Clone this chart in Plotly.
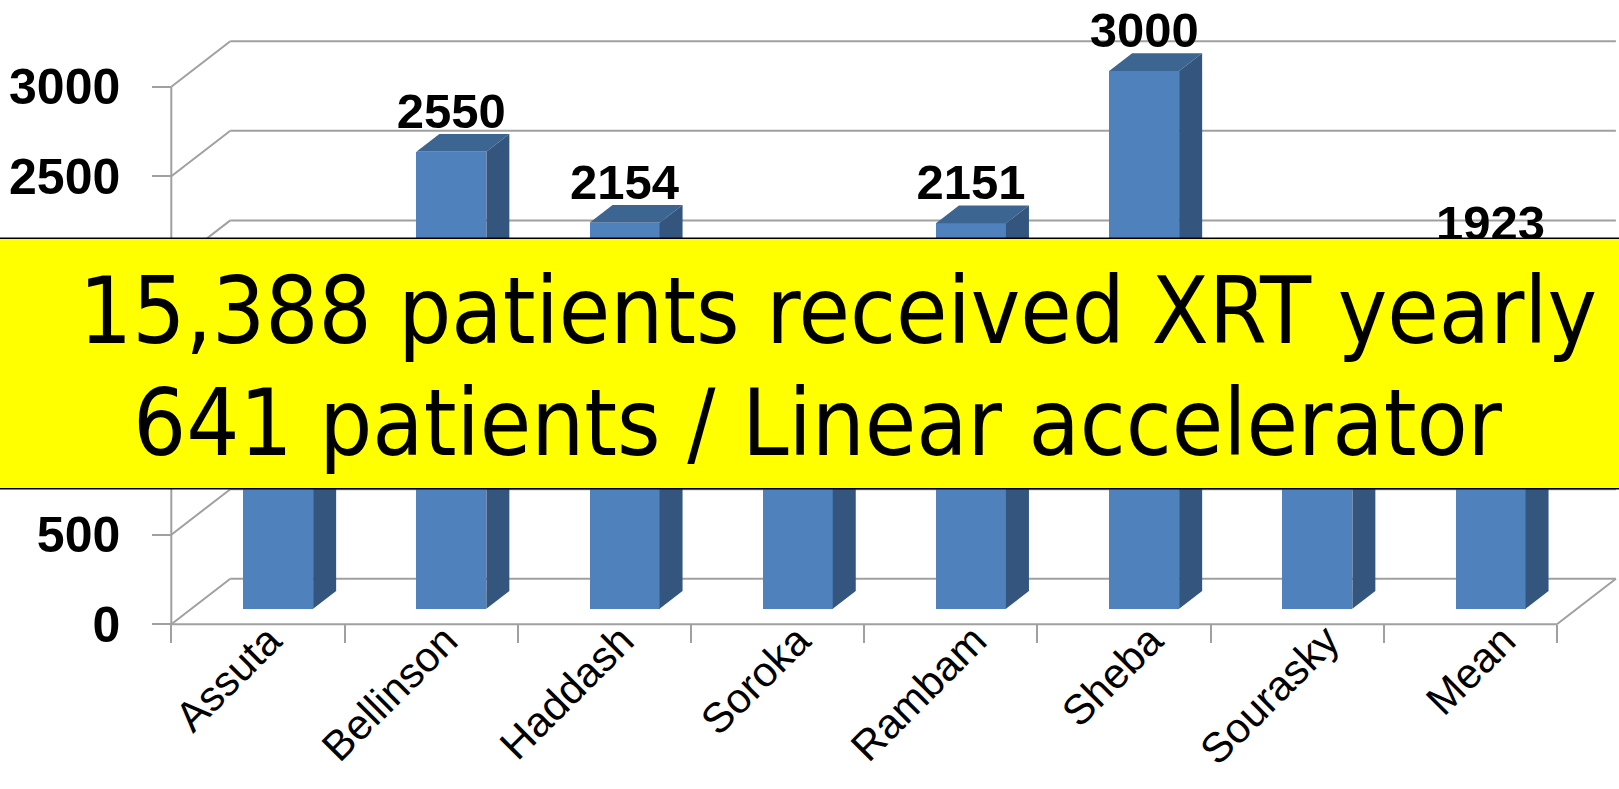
import plotly.graph_objects as go

# ---------------- data ----------------
categories = ["Assuta", "Bellinson", "Haddash", "Soroka", "Rambam", "Sheba", "Sourasky", "Mean"]
patients = [1700, 2550, 2154, 1150, 2151, 3000, 1690, 1923]   # hidden ones estimated
y_ticks = [0, 500, 1000, 1500, 2000, 2500, 3000]
overlay_lines = ["15,388 patients received XRT yearly", "641 patients / Linear accelerator"]

# ---------------- geometry / style ----------------
W, H = 1619, 789
CAT_PX = 173.2          # pixels per category
UNIT_PX = 0.1792        # pixels per value unit
FRONT_X_PX = 171.3      # front-left corner of the floor
FRONT_Y_PX = 624.3
ML, MB, MT, MR = 166, 160, 0, 0
plot_w = W - ML - MR
plot_h = H - MB - MT
x_lo = -0.5 - (FRONT_X_PX - ML) / CAT_PX
x_hi = x_lo + plot_w / CAT_PX
y_lo = -((H - MB) - FRONT_Y_PX) / UNIT_PX
y_hi = y_lo + plot_h / UNIT_PX
DX = 59.0 / CAT_PX      # depth offset in category units
DY = 45.5 / UNIT_PX     # depth offset in value units
D0, D1 = 0.343, 0.733   # bar depth span (fraction of floor depth)
BAR_W = 70.0 / CAT_PX
LABEL_PAD = 6.0 / UNIT_PX   # pull data labels slightly down
LABEL_DRIFT = 0.018         # perspective drift of category labels
GRID = "#A0A0A0"
FRONT_C, TOP_C, SIDE_C = "#4F81BD", "#3D6591", "#34557E"
NUM_FONT = "Liberation Sans"
CAT_FONT = "Liberation Sans"
BOX_FONT = "DejaVu Sans Condensed, Liberation Sans"

xs = list(range(len(categories)))
fig = go.Figure()

# front faces of the bars
fig.add_trace(go.Bar(
    x=[i + D0 * DX for i in xs], y=patients, base=D0 * DY, width=BAR_W,
    marker=dict(color=FRONT_C, line=dict(width=0)), showlegend=False, hoverinfo="skip"))

# top and side faces
ddx, ddy = (D1 - D0) * DX, (D1 - D0) * DY
for i, v in zip(xs, patients):
    xl = i + D0 * DX - BAR_W / 2
    xr = i + D0 * DX + BAR_W / 2
    b = D0 * DY
    fig.add_trace(go.Scatter(
        x=[xl, xr, xr + ddx, xl + ddx, xl], y=[b + v, b + v, b + v + ddy, b + v + ddy, b + v],
        fill="toself", fillcolor=TOP_C, mode="lines", line=dict(width=0),
        showlegend=False, hoverinfo="skip"))
    fig.add_trace(go.Scatter(
        x=[xr, xr + ddx, xr + ddx, xr, xr], y=[b, b + ddy, b + v + ddy, b + v, b],
        fill="toself", fillcolor=SIDE_C, mode="lines", line=dict(width=0),
        showlegend=False, hoverinfo="skip"))

# data labels
fig.add_trace(go.Scatter(
    x=[i + D0 * DX for i in xs], y=[v + D1 * DY - LABEL_PAD for v in patients],
    mode="text", text=[str(v) for v in patients], textposition="top center",
    textfont=dict(family=NUM_FONT, size=49, color="black", weight="bold"),
    showlegend=False, hoverinfo="skip", cliponaxis=False))

# 3D frame: side-wall diagonals and back-wall gridlines
x_left, x_right = -0.5, len(categories) - 0.5
for v in y_ticks:
    fig.add_shape(type="line", xref="x", yref="y", layer="below",
                  x0=x_left, y0=v, x1=x_left + DX, y1=v + DY, line=dict(color=GRID, width=2))
    fig.add_shape(type="line", xref="x", yref="y", layer="below",
                  x0=x_left + DX, y0=v + DY, x1=x_right + DX, y1=v + DY, line=dict(color=GRID, width=2))
# floor front edge, right diagonal, left vertical edge
fig.add_shape(type="line", xref="x", yref="y", layer="below",
              x0=x_left, y0=0, x1=x_right, y1=0, line=dict(color=GRID, width=2))
fig.add_shape(type="line", xref="x", yref="y", layer="below",
              x0=x_right, y0=0, x1=x_right + DX, y1=DY, line=dict(color=GRID, width=2))
fig.add_shape(type="line", xref="x", yref="y", layer="below",
              x0=x_left, y0=0, x1=x_left, y1=max(y_ticks), line=dict(color=GRID, width=2))

# overlay box
def px_x(p):
    return (p - ML) / plot_w

def px_y(p):
    return 1 - (p - MT) / plot_h

fig.add_shape(type="rect", xref="paper", yref="paper", layer="above",
              x0=px_x(-3), x1=px_x(W + 3), y0=px_y(488.7), y1=px_y(238.3),
              fillcolor="#FFFF00", line=dict(color="black", width=1.5))
fig.add_annotation(xref="paper", yref="paper", x=px_x(838), y=px_y(310.5),
                   xanchor="center", yanchor="middle", showarrow=False, text=overlay_lines[0],
                   font=dict(family=BOX_FONT, size=93, color="black"))
fig.add_annotation(xref="paper", yref="paper", x=px_x(818), y=px_y(423),
                   xanchor="center", yanchor="middle", showarrow=False, text=overlay_lines[1],
                   font=dict(family=BOX_FONT, size=93, color="black"))

fig.update_layout(
    width=W, height=H, margin=dict(l=ML, r=MR, t=MT, b=MB, pad=0, autoexpand=False),
    paper_bgcolor="white", plot_bgcolor="white", showlegend=False, bargap=0,
    xaxis=dict(type="linear", range=[x_lo, x_hi], tickmode="array",
               tickvals=[i * (1 + LABEL_DRIFT) for i in xs], ticktext=categories,
               ticks="", tickangle=-45, showgrid=False, zeroline=False, showline=False,
               automargin=False,
               tickfont=dict(family=CAT_FONT, size=42, color="black"),
               anchor="free", position=((H - MB) - FRONT_Y_PX) / plot_h,
               ticklabelstandoff=-18, ticklabelshift=11,
               minor=dict(ticks="outside", tick0=0.5, dtick=1, ticklen=18, tickwidth=2,
                          tickcolor=GRID, showgrid=False)),
    yaxis=dict(range=[y_lo, y_hi], tickmode="array", tickvals=y_ticks,
               ticks="outside", ticklen=19, tickwidth=2, tickcolor=GRID,
               showgrid=False, zeroline=False, showline=False, automargin=False,
               tickfont=dict(family=NUM_FONT, size=50, color="black", weight="bold"),
               anchor="free", position=(FRONT_X_PX - ML) / plot_w, ticklabelstandoff=22),
)

fig.write_html("out.html", config={"displayModeBar": False},
               post_script="document.body.style.margin='0px';document.body.style.overflow='hidden';")
